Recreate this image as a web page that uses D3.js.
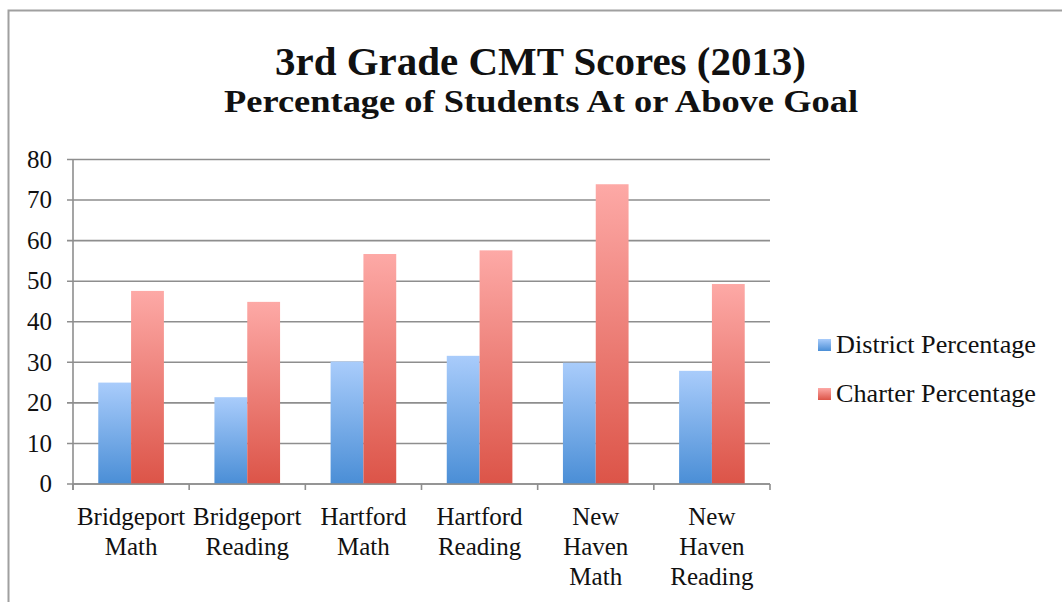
<!DOCTYPE html>
<html>
<head>
<meta charset="utf-8">
<script src="https://cdn.jsdelivr.net/npm/d3@7"></script>
<style>
  body { margin: 0; background: #fff; }
  text { font-family: "Liberation Serif", "DejaVu Serif", serif; fill: #111; }
</style>
</head>
<body>
<script>
// data
var categories = [
	["Bridgeport", "Math"],
	["Bridgeport", "Reading"],
	["Hartford", "Math"],
	["Hartford", "Reading"],
	["New", "Haven", "Math"],
	["New", "Haven", "Reading"]
];
var districtValues = [25, 21.4, 30.2, 31.6, 29.9, 27.9];
var charterValues = [47.6, 44.9, 56.7, 57.6, 73.9, 49.3];
var seriesNames = ["District Percentage", "Charter Percentage"];
var yTicks = [0, 10, 20, 30, 40, 50, 60, 70, 80];

var width = 1062;
var height = 602;
var padding = {top: 159.5, right: 292, bottom: 118, left: 73};

var svg = d3.select("body")
	.append("svg")
	.attr("width", width)
	.attr("height", height);

// gradients for the bars
var defs = svg.append("defs");
var fills = [
	{id: "gradBlue", top: "#a9ccfb", bottom: "#4a8ed6"},
	{id: "gradRed", top: "#fda9a6", bottom: "#dc5448"}
];
fills.forEach(function(f){
	var g = defs.append("linearGradient")
		.attr("id", f.id)
		.attr("x1", 0).attr("y1", 0)
		.attr("x2", 0).attr("y2", 1);
	g.append("stop").attr("offset", "0%").attr("stop-color", f.top);
	g.append("stop").attr("offset", "100%").attr("stop-color", f.bottom);
});

// outer frame (only the top and left edges show)
svg.append("path")
	.attr("d", "M8.5," + height + "V10.5H" + width)
	.attr("fill", "none")
	.attr("stroke", "#a0a0a0")
	.attr("stroke-width", 2);

// titles
svg.append("text")
	.attr("x", 540.5)
	.attr("y", 75)
	.attr("text-anchor", "middle")
	.attr("font-size", "40px")
	.attr("font-weight", "bold")
	.attr("textLength", 531)
	.attr("lengthAdjust", "spacingAndGlyphs")
	.text("3rd Grade CMT Scores (2013)");

svg.append("text")
	.attr("x", 541)
	.attr("y", 112)
	.attr("text-anchor", "middle")
	.attr("font-size", "32px")
	.attr("font-weight", "bold")
	.attr("textLength", 634)
	.attr("lengthAdjust", "spacingAndGlyphs")
	.text("Percentage of Students At or Above Goal");

var x = d3.scaleBand()
	.domain(d3.range(categories.length))
	.range([padding.left, width - padding.right]);

var x1 = d3.scaleBand()
	.domain([0, 1])
	.range([0, x.bandwidth()])
	.paddingOuter(0.77)
	.paddingInner(0);

var y = d3.scaleLinear()
	.domain([0, 80])
	.range([height - padding.bottom, padding.top]);

// gridlines
svg.append("g")
	.selectAll("line")
	.data(yTicks)
	.enter()
	.append("line")
	.attr("x1", padding.left - 6)
	.attr("x2", width - padding.right)
	.attr("y1", function(d){ return y(d); })
	.attr("y2", function(d){ return y(d); })
	.attr("stroke", "#8e8e8e")
	.attr("stroke-width", 1.6);

// y tick labels
svg.append("g")
	.selectAll("text")
	.data(yTicks)
	.enter()
	.append("text")
	.attr("x", 52)
	.attr("y", function(d){ return y(d); })
	.attr("dy", "0.33em")
	.attr("text-anchor", "end")
	.attr("font-size", "25px")
	.text(function(d){ return d; });

// bars
var rows = categories.map(function(c, i){
	return {i: i, values: [districtValues[i], charterValues[i]]};
});

var groups = svg.append("g")
	.selectAll("g")
	.data(rows)
	.enter()
	.append("g")
	.attr("transform", function(d){ return "translate(" + x(d.i) + ",0)"; });

groups.selectAll("rect")
	.data(function(d){ return d.values.map(function(v, k){ return {k: k, v: v}; }); })
	.enter()
	.append("rect")
	.attr("x", function(d){ return x1(d.k); })
	.attr("y", function(d){ return y(d.v); })
	.attr("width", x1.bandwidth())
	.attr("height", function(d){ return y(0) - y(d.v); })
	.attr("fill", function(d){ return "url(#" + fills[d.k].id + ")"; });

// x axis line and ticks
var xAxis = svg.append("g");
xAxis.append("line")
	.attr("x1", padding.left)
	.attr("x2", width - padding.right)
	.attr("y1", y(0))
	.attr("y2", y(0))
	.attr("stroke", "#8e8e8e")
	.attr("stroke-width", 1.6);
xAxis.append("line")
	.attr("x1", padding.left)
	.attr("x2", padding.left)
	.attr("y1", y(80))
	.attr("y2", y(0) + 6)
	.attr("stroke", "#8e8e8e")
	.attr("stroke-width", 1.6);
xAxis.selectAll(".tick")
	.data(d3.range(categories.length + 1))
	.enter()
	.append("line")
	.attr("class", "tick")
	.attr("x1", function(d){ return padding.left + d * x.step(); })
	.attr("x2", function(d){ return padding.left + d * x.step(); })
	.attr("y1", y(0))
	.attr("y2", y(0) + 6)
	.attr("stroke", "#8e8e8e")
	.attr("stroke-width", 1.6);

// category labels
var labels = svg.append("g")
	.selectAll("text")
	.data(categories)
	.enter()
	.append("text")
	.attr("text-anchor", "middle")
	.attr("font-size", "25px")
	.attr("x", function(d, i){ return x(i) + x.bandwidth() / 2; })
	.attr("y", 525);

labels.selectAll("tspan")
	.data(function(d){ return d; })
	.enter()
	.append("tspan")
	.attr("x", function(){ return d3.select(this.parentNode).attr("x"); })
	.attr("dy", function(d, j){ return j === 0 ? 0 : 30; })
	.text(function(d){ return d; });

// legend
var legend = svg.append("g")
	.selectAll("g")
	.data(seriesNames)
	.enter()
	.append("g")
	.attr("transform", function(d, i){ return "translate(818," + (345 + i * 49) + ")"; });

legend.append("rect")
	.attr("x", 0)
	.attr("y", -6)
	.attr("width", 13)
	.attr("height", 12)
	.attr("fill", function(d, i){ return "url(#" + fills[i].id + ")"; });

legend.append("text")
	.attr("x", 18)
	.attr("y", 0)
	.attr("dy", "0.33em")
	.attr("font-size", "25px")
	.attr("textLength", 200)
	.attr("lengthAdjust", "spacingAndGlyphs")
	.text(function(d){ return d; });
</script>
</body>
</html>
